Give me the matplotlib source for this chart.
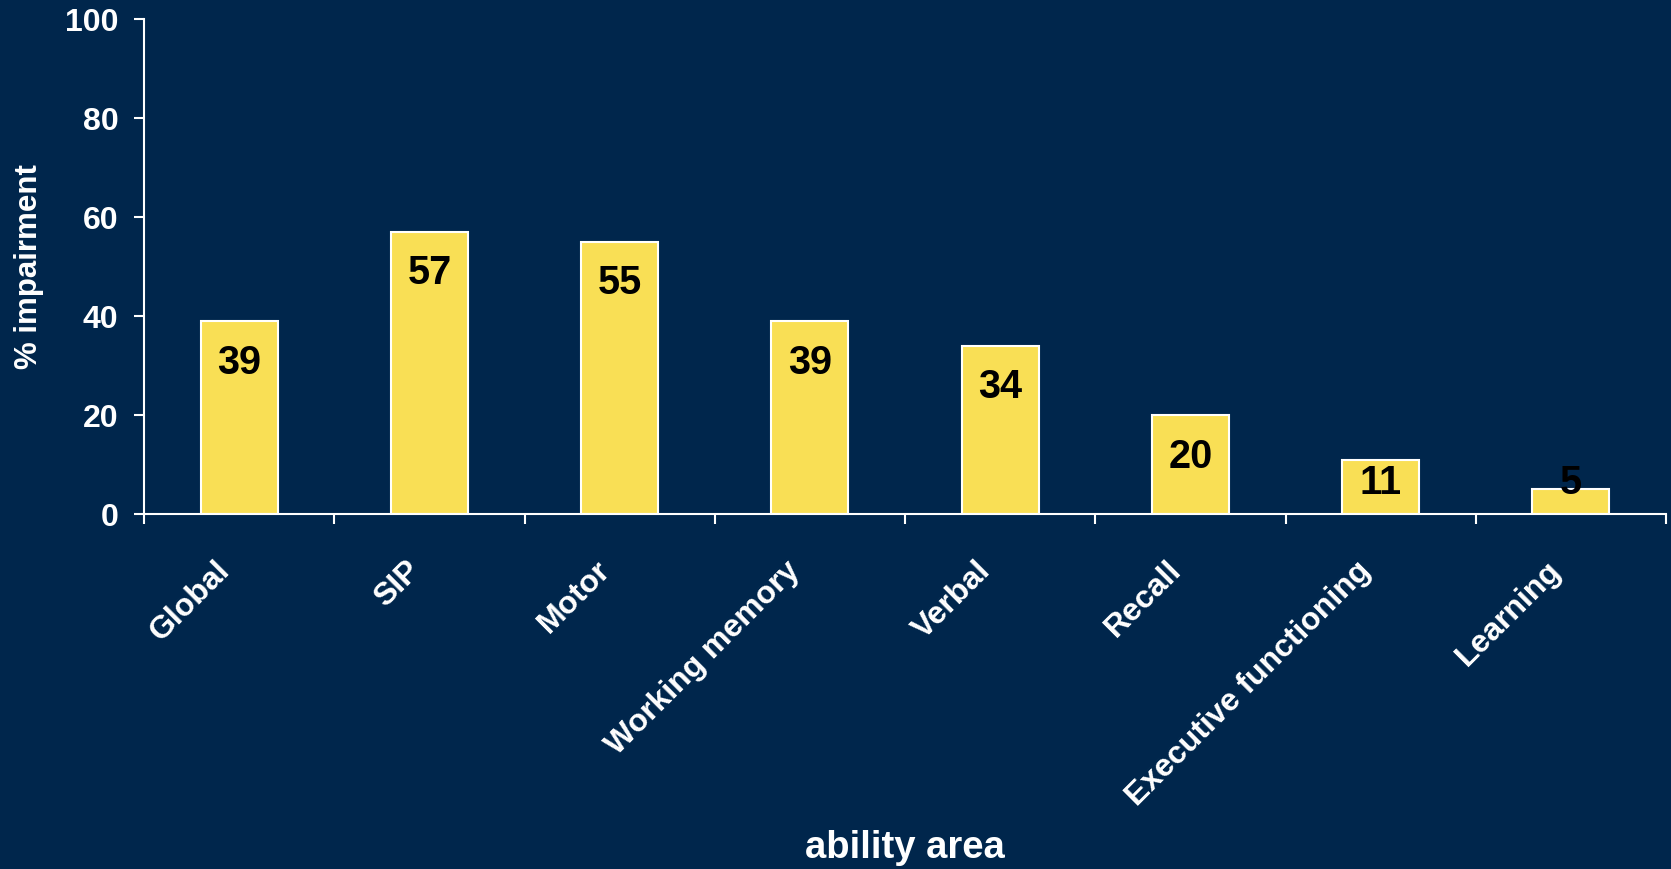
import matplotlib
matplotlib.use("Agg")
import matplotlib.pyplot as plt
from matplotlib.transforms import ScaledTranslation
import numpy as np

categories = ["Global", "SIP", "Motor", "Working memory", "Verbal",
              "Recall", "Executive functioning", "Learning"]
values = [39, 57, 55, 39, 34, 20, 11, 5]
yticks = [0, 20, 40, 60, 80, 100]

BG = "#00264c"
BAR = "#f9df55"
FONT = "Liberation Sans"

plt.rcParams["font.family"] = FONT
plt.rcParams["font.weight"] = "bold"

fig = plt.figure(figsize=(16.71, 8.69), dpi=100, facecolor=BG)
ax = fig.add_axes([0.0862, 0.4085, 0.9108, 0.5696], facecolor=BG)

x = np.arange(len(categories))
ax.bar(x, values, width=0.405, color=BAR, edgecolor="white", linewidth=1.5, zorder=2)

ax.set_xlim(-0.5, len(categories) - 0.5)
ax.set_ylim(0, 100)

# value labels sit just inside the top of each bar, never below the baseline strip
for xi, v in zip(x, values):
    ax.text(xi, max(v - 8.4, 6.2), f"{v}", ha="center", va="center",
            fontsize=28.5, fontweight="bold", color="black", zorder=3)

for side in ("top", "right"):
    ax.spines[side].set_visible(False)
for side in ("left", "bottom"):
    ax.spines[side].set_color("white")
    ax.spines[side].set_linewidth(1.5)

ax.set_yticks(yticks)
ax.set_yticklabels([str(t) for t in yticks])
ax.tick_params(axis="y", colors="white", length=7.5, width=1.5, pad=11,
               labelsize=23)

# boundaries between categories carry the tick marks; names go at centres
ax.set_xticks(np.arange(-0.5, len(categories), 1.0))
ax.set_xticklabels([])
ax.tick_params(axis="x", which="major", colors="white", length=7.5, width=1.5)
ax.set_xticks(x, minor=True)
ax.set_xticklabels(categories, minor=True, rotation=45, ha="right",
                   va="center", rotation_mode="anchor", fontsize=23,
                   fontweight="bold", color="white")
ax.tick_params(axis="x", which="minor", length=0, pad=0)
offset = ScaledTranslation(-0.14, -0.52, fig.dpi_scale_trans)
for lbl in ax.get_xticklabels(minor=True):
    lbl.set_transform(lbl.get_transform() + offset)

fig.text(0.0175, 0.6936, "% impairment", rotation=90, ha="center", va="center",
         fontsize=22.5, fontweight="bold", color="white")
fig.text(0.5415, 0.024, "ability area", ha="center", va="center",
         fontsize=27.5, fontweight="bold", color="white")

fig.savefig("out.png", dpi=100, facecolor=BG)
